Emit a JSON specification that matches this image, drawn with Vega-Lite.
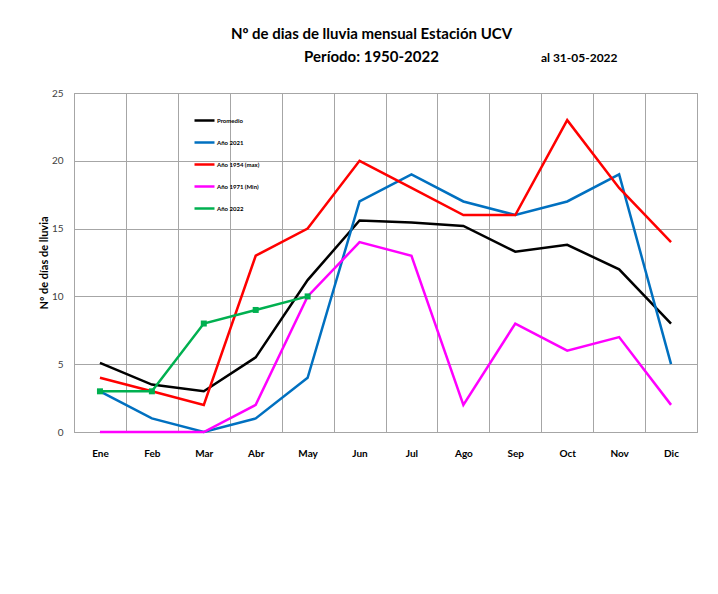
{
  "$schema": "https://vega.github.io/schema/vega-lite/v6.json",
  "width": 623,
  "height": 339,
  "autosize": {"type": "none"},
  "padding": {"left": 74, "top": 93, "right": 21, "bottom": 162},
  "background": "white",
  "config": {
    "font": "Lato",
    "view": {"stroke": "#a6a6a6", "strokeWidth": 1}
  },
  "title": {
    "text": "Nº de dias de lluvia mensual Estación UCV",
    "subtitle": "Período:  1950-2022",
    "fontSize": 15,
    "subtitleFontSize": 15,
    "fontWeight": "bold",
    "subtitleFontWeight": "bold",
    "color": "black",
    "subtitleColor": "black",
    "anchor": "middle",
    "dx": -14,
    "offset": -13,
    "subtitlePadding": 8
  },
  "data": {
    "values": [
      {"mes": "Ene", "serie": "Promedio", "dias": 5.1},
      {"mes": "Feb", "serie": "Promedio", "dias": 3.5},
      {"mes": "Mar", "serie": "Promedio", "dias": 3.0},
      {"mes": "Abr", "serie": "Promedio", "dias": 5.5},
      {"mes": "May", "serie": "Promedio", "dias": 11.2},
      {"mes": "Jun", "serie": "Promedio", "dias": 15.6},
      {"mes": "Jul", "serie": "Promedio", "dias": 15.45},
      {"mes": "Ago", "serie": "Promedio", "dias": 15.2},
      {"mes": "Sep", "serie": "Promedio", "dias": 13.3},
      {"mes": "Oct", "serie": "Promedio", "dias": 13.8},
      {"mes": "Nov", "serie": "Promedio", "dias": 12.0},
      {"mes": "Dic", "serie": "Promedio", "dias": 8.0},
      {"mes": "Ene", "serie": "Año 2021", "dias": 3},
      {"mes": "Feb", "serie": "Año 2021", "dias": 1},
      {"mes": "Mar", "serie": "Año 2021", "dias": 0},
      {"mes": "Abr", "serie": "Año 2021", "dias": 1},
      {"mes": "May", "serie": "Año 2021", "dias": 4},
      {"mes": "Jun", "serie": "Año 2021", "dias": 17},
      {"mes": "Jul", "serie": "Año 2021", "dias": 19},
      {"mes": "Ago", "serie": "Año 2021", "dias": 17},
      {"mes": "Sep", "serie": "Año 2021", "dias": 16},
      {"mes": "Oct", "serie": "Año 2021", "dias": 17},
      {"mes": "Nov", "serie": "Año 2021", "dias": 19},
      {"mes": "Dic", "serie": "Año 2021", "dias": 5},
      {"mes": "Ene", "serie": "Año 1954 (max)", "dias": 4},
      {"mes": "Feb", "serie": "Año 1954 (max)", "dias": 3},
      {"mes": "Mar", "serie": "Año 1954 (max)", "dias": 2},
      {"mes": "Abr", "serie": "Año 1954 (max)", "dias": 13},
      {"mes": "May", "serie": "Año 1954 (max)", "dias": 15},
      {"mes": "Jun", "serie": "Año 1954 (max)", "dias": 20},
      {"mes": "Jul", "serie": "Año 1954 (max)", "dias": 18},
      {"mes": "Ago", "serie": "Año 1954 (max)", "dias": 16},
      {"mes": "Sep", "serie": "Año 1954 (max)", "dias": 16},
      {"mes": "Oct", "serie": "Año 1954 (max)", "dias": 23},
      {"mes": "Nov", "serie": "Año 1954 (max)", "dias": 18},
      {"mes": "Dic", "serie": "Año 1954 (max)", "dias": 14},
      {"mes": "Ene", "serie": "Año 1971 (Min)", "dias": 0},
      {"mes": "Feb", "serie": "Año 1971 (Min)", "dias": 0},
      {"mes": "Mar", "serie": "Año 1971 (Min)", "dias": 0},
      {"mes": "Abr", "serie": "Año 1971 (Min)", "dias": 2},
      {"mes": "May", "serie": "Año 1971 (Min)", "dias": 10},
      {"mes": "Jun", "serie": "Año 1971 (Min)", "dias": 14},
      {"mes": "Jul", "serie": "Año 1971 (Min)", "dias": 13},
      {"mes": "Ago", "serie": "Año 1971 (Min)", "dias": 2},
      {"mes": "Sep", "serie": "Año 1971 (Min)", "dias": 8},
      {"mes": "Oct", "serie": "Año 1971 (Min)", "dias": 6},
      {"mes": "Nov", "serie": "Año 1971 (Min)", "dias": 7},
      {"mes": "Dic", "serie": "Año 1971 (Min)", "dias": 2},
      {"mes": "Ene", "serie": "Año 2022", "dias": 3},
      {"mes": "Feb", "serie": "Año 2022", "dias": 3},
      {"mes": "Mar", "serie": "Año 2022", "dias": 8},
      {"mes": "Abr", "serie": "Año 2022", "dias": 9},
      {"mes": "May", "serie": "Año 2022", "dias": 10}
    ]
  },
  "encoding": {
    "x": {
      "field": "mes",
      "type": "nominal",
      "sort": ["Ene", "Feb", "Mar", "Abr", "May", "Jun", "Jul", "Ago", "Sep", "Oct", "Nov", "Dic"],
      "scale": {"type": "band", "paddingInner": 0, "paddingOuter": 0, "domain": ["Ene", "Feb", "Mar", "Abr", "May", "Jun", "Jul", "Ago", "Sep", "Oct", "Nov", "Dic"]},
      "axis": {
        "title": null,
        "labelAngle": 0,
        "labelFontSize": 10,
        "labelFontWeight": "bold",
        "labelColor": "black",
        "labelPadding": 16,
        "ticks": false,
        "tickBand": "extent",
        "grid": true,
        "gridColor": "#a6a6a6",
        "gridWidth": 1,
        "domainColor": "#a6a6a6"
      }
    },
    "y": {
      "field": "dias",
      "type": "quantitative",
      "scale": {"domain": [0, 25], "nice": false},
      "axis": {
        "title": "Nº de días de lluvia",
        "titleFontSize": 11,
        "titleFontWeight": "bold",
        "titleColor": "black",
        "titlePadding": 2,
        "values": [0, 5, 10, 15, 20, 25],
        "labelFontSize": 10,
        "labelColor": "#404040",
        "labelPadding": 11,
        "ticks": false,
        "grid": true,
        "gridColor": "#a6a6a6",
        "gridWidth": 1,
        "domainColor": "#a6a6a6"
      }
    }
  },
  "layer": [
    {
      "mark": {"type": "line", "strokeWidth": 2.5},
      "encoding": {
        "color": {
          "field": "serie",
          "type": "nominal",
          "scale": {
            "domain": ["Promedio", "Año 2021", "Año 1954 (max)", "Año 1971 (Min)", "Año 2022"],
            "range": ["#000000", "#0070c0", "#ff0000", "#ff00ff", "#00b050"]
          },
          "legend": {
            "title": null,
            "orient": "none",
            "legendX": 119,
            "legendY": 16,
            "padding": 0,
            "symbolType": "stroke",
            "symbolSize": 400,
            "symbolStrokeWidth": 2.5,
            "labelFontSize": 6,
            "labelFontWeight": "bold",
            "labelColor": "black",
            "labelOffset": 1,
            "rowPadding": 5
          }
        }
      }
    },
    {
      "transform": [{"filter": "datum.serie === 'Año 2022'"}],
      "mark": {"type": "square", "size": 36, "opacity": 1, "filled": true, "color": "#00b050"}
    },
    {
      "transform": [{"filter": "datum.serie === 'Promedio' && datum.mes === 'Oct'"}],
      "mark": {"type": "text", "fontSize": 12, "fontWeight": "bold", "color": "black", "dx": 12, "clip": false},
      "encoding": {
        "x": {"datum": "Oct"},
        "y": {"datum": 27.6},
        "text": {"value": "al 31-05-2022"}
      }
    }
  ]
}
